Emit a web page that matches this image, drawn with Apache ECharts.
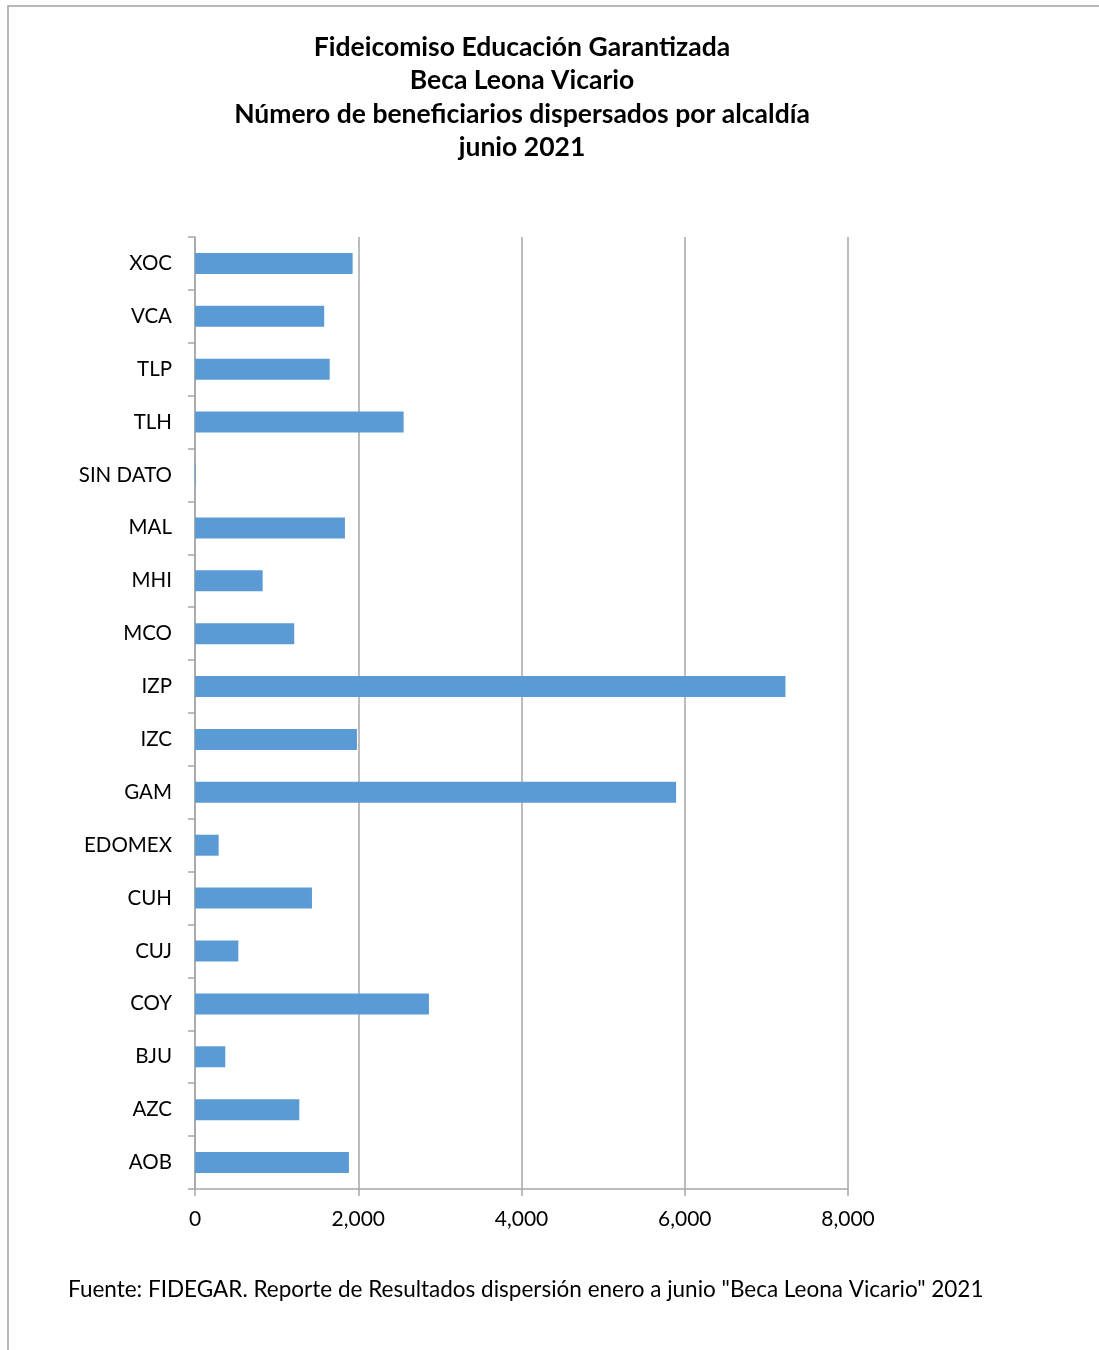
<!DOCTYPE html>
<html><head><meta charset="utf-8">
<script src="https://cdn.jsdelivr.net/npm/echarts@6/dist/echarts.min.js"></script>
<style>html,body{margin:0;padding:0;background:#fff}#c{width:1099px;height:1350px}</style>
</head><body><div id="c"></div>
<script>
const categories = ["AOB","AZC","BJU","COY","CUJ","CUH","EDOMEX","GAM","IZC","IZP","MCO","MHI","MAL","SIN DATO","TLH","TLP","VCA","XOC"];
const beneficiarios = [1886,1278,371,2866,531,1433,290,5894,1984,7234,1216,829,1837,8,2556,1650,1583,1931];
const xTicks = [0,2000,4000,6000,8000];
const titleLines = ["Fideicomiso Educación Garantizada","Beca Leona Vicario","Número de beneficiarios dispersados por alcaldía","junio 2021"];
const footnote = 'Fuente: FIDEGAR. Reporte de Resultados dispersión enero a junio "Beca Leona Vicario" 2021';

const FONT = 'Lato';
const chart = echarts.init(document.getElementById('c'), null, {renderer:'canvas'});
chart.setOption({
  backgroundColor:'#fff',
  animation:false,
  grid:{left:195,right:251,top:237,bottom:161,containLabel:false},
  xAxis:{
    type:'value',min:xTicks[0],max:xTicks[xTicks.length-1],interval:2000,
    axisLine:{show:true,lineStyle:{color:'#a6a6a6',width:1.5}},
    axisTick:{show:true,length:7,lineStyle:{color:'#a6a6a6',width:1.5}},
    splitLine:{show:true,lineStyle:{color:'#a6a6a6',width:1.5}},
    axisLabel:{margin:20,color:'#000',fontSize:21,fontFamily:FONT,
      formatter:v=>v.toLocaleString('en-US')}
  },
  yAxis:{
    type:'category',data:categories,
    axisLine:{show:true,lineStyle:{color:'#a6a6a6',width:1.5}},
    axisTick:{show:true,length:7,alignWithLabel:false,lineStyle:{color:'#a6a6a6',width:1.5}},
    splitLine:{show:false},
    axisLabel:{margin:23,color:'#000',fontSize:20.5,fontFamily:FONT}
  },
  series:[{
    type:'bar',data:beneficiarios,barWidth:21,
    itemStyle:{color:'#5b9bd5'}
  }],
  graphic:[
    {type:'rect',shape:{x:8,y:6,width:1300,height:1500},style:{fill:'none',stroke:'#a0a0a0',lineWidth:1.5},silent:true},
    {type:'text',x:522,y:30.5,style:{text:titleLines.join('\n'),align:'center',verticalAlign:'top',
      font:'bold 26.5px '+FONT,lineHeight:33.5,fill:'#000'}},
    {type:'text',x:68,y:1290,style:{text:footnote,align:'left',verticalAlign:'middle',
      font:'22.5px '+FONT,fill:'#000'}}
  ]
});
</script></body></html>
